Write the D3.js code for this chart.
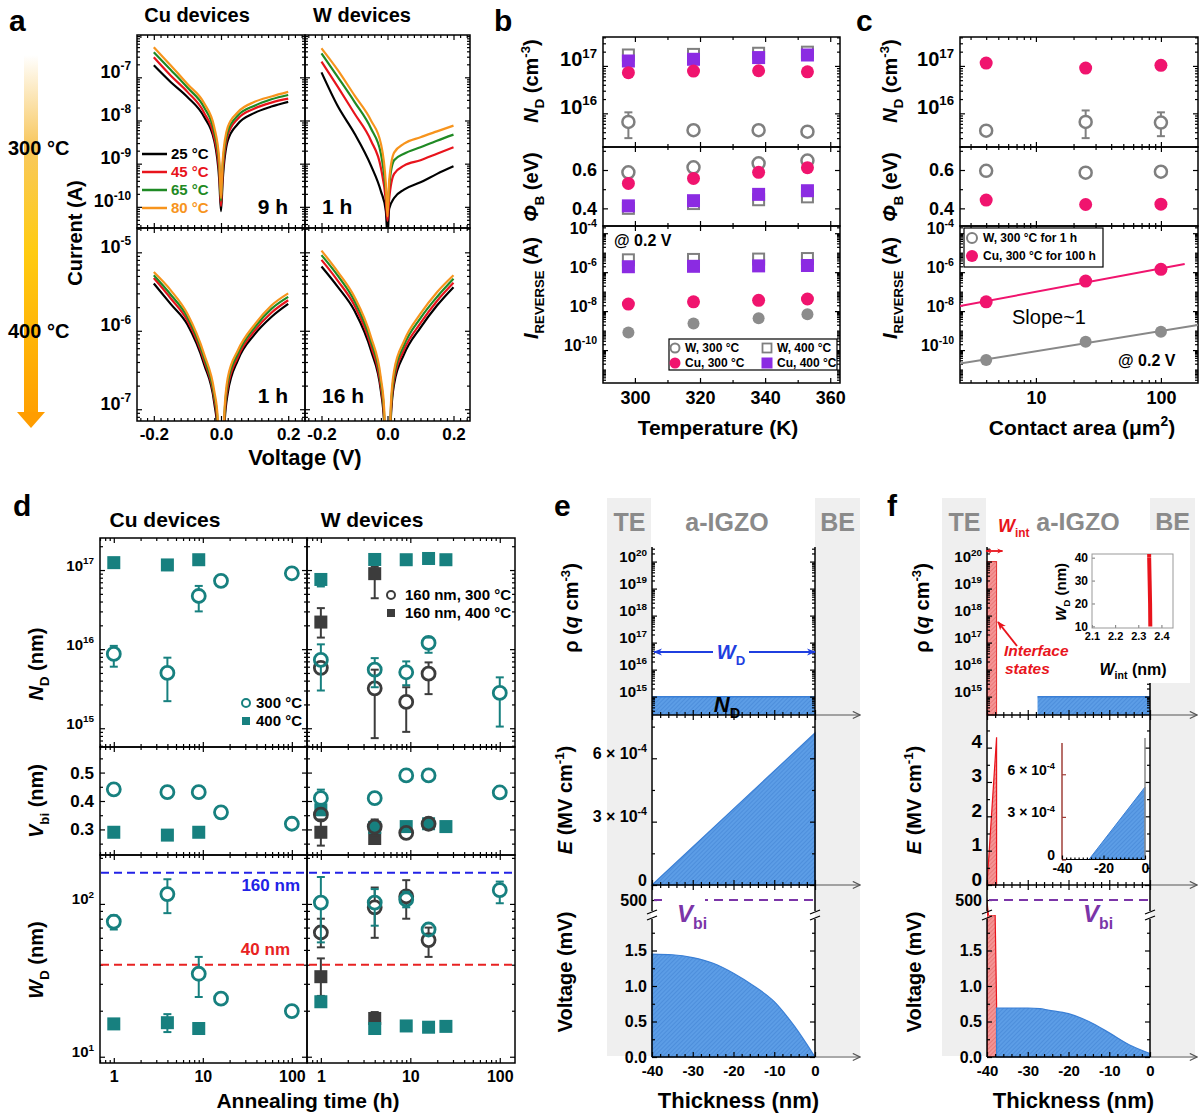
<!DOCTYPE html>
<html>
<head>
<meta charset="utf-8">
<script src="https://cdn.jsdelivr.net/npm/d3@7"></script>
<style>
  body { margin: 0; background: #fff; }
  svg { display: block; }
</style>
</head>
<body>
<script>
// ---------------- data: panel a (I–V, current in A) ----------------
const ivVolt  = [-0.2, -0.15, -0.1, -0.05, -0.02, -0.005, 0, 0.005, 0.02, 0.05, 0.1, 0.15, 0.2];
const ivVoltB = [-0.2, -0.15, -0.1, -0.05, -0.02, -0.01, 0, 0.01, 0.02, 0.05, 0.1, 0.15, 0.2];
const ivLegend = ['25 °C', '45 °C', '65 °C', '80 °C'];
const ivColors = ['#000000', '#e8141c', '#1f8a24', '#f7941d'];
const ivCu9h = [
  [1.9e-7, 7.8e-8, 3.5e-8, 1.2e-8, 3.4e-9, 4e-10, 8e-11, 4e-10, 3.4e-9, 8.3e-9, 1.5e-8, 2.1e-8, 2.7e-8],
  [2.9e-7, 1.1e-7, 4.6e-8, 1.5e-8, 4e-9, 5.8e-10, 1.05e-10, 5.8e-10, 4.5e-9, 1.1e-8, 1.9e-8, 2.6e-8, 3.2e-8],
  [3.8e-7, 1.5e-7, 5.8e-8, 2e-8, 5.4e-9, 9e-10, 1.4e-10, 9e-10, 5.6e-9, 1.3e-8, 2.2e-8, 3.1e-8, 3.9e-8],
  [5e-7, 1.9e-7, 7e-8, 2.5e-8, 7e-9, 1.2e-9, 1.6e-10, 1.2e-9, 7e-9, 1.55e-8, 2.7e-8, 3.6e-8, 4.6e-8]
];
const ivW1h = [
  [1.3e-7, 2.1e-8, 5e-9, 9e-10, 2.3e-10, 8e-11, 2e-11, 9e-11, 1.6e-10, 2.5e-10, 3.7e-10, 5.8e-10, 8.7e-10],
  [2.3e-7, 5.9e-8, 1.45e-8, 3.4e-9, 8e-10, 1.4e-10, 4.7e-11, 1.5e-10, 5.8e-10, 9e-10, 1.2e-9, 1.7e-9, 2.4e-9],
  [3.6e-7, 1e-7, 2.7e-8, 6.5e-9, 1.7e-9, 2.5e-10, 1e-10, 3e-10, 1.2e-9, 1.7e-9, 2.4e-9, 3.4e-9, 4.7e-9],
  [4.7e-7, 1.45e-7, 3.8e-8, 1e-8, 2.9e-9, 3.4e-10, 6e-11, 4e-10, 1.8e-9, 2.9e-9, 4.1e-9, 5.6e-9, 7.6e-9]
];
const ivCu1h = [
  [4e-6, 2.2e-6, 1.2e-6, 3.7e-7, 1.2e-7, 5e-8, 1e-9, 6e-8, 1.6e-7, 4.2e-7, 9e-7, 1.5e-6, 2.2e-6],
  [4.7e-6, 2.6e-6, 1.35e-6, 4.1e-7, 1.35e-7, 6e-8, 1e-9, 7e-8, 1.9e-7, 4.6e-7, 1e-6, 1.7e-6, 2.45e-6],
  [5.1e-6, 2.9e-6, 1.5e-6, 4.5e-7, 1.5e-7, 7e-8, 1e-9, 8e-8, 2.2e-7, 5.1e-7, 1.1e-6, 1.9e-6, 2.7e-6],
  [5.6e-6, 3.3e-6, 1.65e-6, 5e-7, 1.7e-7, 8e-8, 1e-9, 9e-8, 2.5e-7, 5.6e-7, 1.2e-6, 2.1e-6, 3e-6]
];
const ivW16h = [
  [6.6e-6, 3.6e-6, 1.8e-6, 5.6e-7, 1.7e-7, 6.5e-8, 1e-9, 7.5e-8, 2.1e-7, 5e-7, 1.1e-6, 2.1e-6, 3.6e-6],
  [8e-6, 4.3e-6, 2.1e-6, 6.4e-7, 1.9e-7, 7.5e-8, 1e-9, 8.5e-8, 2.4e-7, 5.7e-7, 1.25e-6, 2.4e-6, 4.1e-6],
  [9.2e-6, 5e-6, 2.4e-6, 7.3e-7, 2.2e-7, 8.5e-8, 1e-9, 9.5e-8, 2.7e-7, 6.5e-7, 1.45e-6, 2.7e-6, 4.6e-6],
  [1.05e-5, 5.6e-6, 2.7e-6, 8.3e-7, 2.5e-7, 1e-7, 1e-9, 1.1e-7, 3.1e-7, 7.4e-7, 1.65e-6, 3.1e-6, 5.1e-6]
];

// ---------------- data: panel b (vs temperature) ----------------
const tempK = [298, 318, 338, 353];
const ndW300 = [6.6e15, 4.4e15, 4.4e15, 4.1e15];
const ndW300Err = [[3e15, 1.05e16], null, null, null];
const ndW400 = [1.7e17, 1.75e17, 1.85e17, 1.95e17];
const ndCu300 = [7.2e16, 7.8e16, 7.9e16, 7.5e16];
const ndCu400 = [1.27e17, 1.38e17, 1.5e17, 1.7e17];
const phiW300 = [0.588, 0.614, 0.635, 0.649];
const phiW400 = [0.40, 0.425, 0.445, 0.46];
const phiCu300 = [0.53, 0.556, 0.588, 0.612];
const phiCu400 = [0.413, 0.44, 0.473, 0.492];
const irW300 = [8.1e-10, 2.3e-9, 4.3e-9, 7e-9];
const irW400 = [4.3e-6, 4.5e-6, 4.7e-6, 5e-6];
const irCu300 = [2.3e-8, 3e-8, 3.6e-8, 4.2e-8];
const irCu400 = [1.9e-6, 2e-6, 2.1e-6, 2.2e-6];

// ---------------- data: panel c (vs contact area) ----------------
const areaUm2 = [4, 25, 100];
const ndAreaW = [4.3e15, 6.6e15, 6.4e15];
const ndAreaWErr = [null, [3e15, 1.15e16], [3.3e15, 1.05e16]];
const ndAreaCu = [1.15e17, 9e16, 1.03e17];
const phiAreaW = [0.596, 0.586, 0.591];
const phiAreaCu = [0.443, 0.42, 0.422];
const irAreaW = [3.1e-11, 2.7e-10, 8.7e-10];
const irAreaCu = [3e-8, 3.5e-7, 1.4e-6];

// ---------------- data: panel d (vs annealing time) ----------------
const tCu300 = [1, 4, 9, 16, 100];
const tCu400 = [1, 4, 9];
const cuNd300 = [8.7e15, 5e15, 4.7e16, 7.3e16, 9.1e16];
const cuNd300Err = [[6e15, 1.1e16], [2.2e15, 7.8e15], [3e16, 6.3e16], null, null];
const cuNd400 = [1.24e17, 1.16e17, 1.35e17];
const cuNd400Err = [null, [1e17, 1.3e17], null];
const cuVbi300 = [0.441, 0.431, 0.431, 0.36, 0.32];
const cuVbi400 = [0.29, 0.28, 0.29];
const cuWd300 = [76.6, 116, 34.9, 24, 19.9];
const cuWd300Err = [[68, 84], [87, 145], [24.6, 45], null, null];
const cuWd400 = [16.4, 16.7, 15.3];
const cuWd400Err = [null, [14.5, 19], null];

const tW300 = [1, 4, 9, 16, 100];
const tW400 = [1, 4, 9, 16, 25];
const tW160a = [1, 4, 9, 16];
const tW160b = [1, 4];
const wNd300 = [7.3e15, 5.5e15, 5.1e15, 1.2e16, 2.8e15];
const wNd300Err = [[3e15, 1.15e16], [3.3e15, 7.7e15], [3.5e15, 7e15], [9e15, 1.4e16], [1.05e15, 4.4e15]];
const wNd400 = [7.6e16, 1.36e17, 1.35e17, 1.4e17, 1.35e17];
const wNd400Err = [[6.2e16, 8.8e16], null, null, null, null];
const w160Nd300 = [5.8e15, 3.2e15, 2.15e15, 4.9e15];
const w160Nd300Err = [null, [7.5e14, 5.5e15], [9e14, 3.3e15], [2.7e15, 6.8e15]];
const w160Nd400 = [2.2e16, 9e16];
const w160Nd400Err = [[1.4e16, 3.3e16], [4.4e16, 1.1e17]];
const wVbi300 = [0.41, 0.41, 0.49, 0.49, 0.43];
const wVbi300Err = [[0.39, 0.44], null, null, null, null];
const wVbi400 = [0.369, 0.307, 0.31, 0.32, 0.31];
const w160Vbi300 = [0.352, 0.31, 0.288, 0.32];
const w160Vbi300Err = [null, [0.28, 0.335], null, null];
const w160Vbi400 = [0.29, 0.268];
const w160Vbi400Err = [[0.243, 0.335], null];
const wWd300 = [102, 102, 107, 68, 123];
const wWd300Err = [[56, 150], [72, 125], [95, 120], null, [101, 140]];
const wWd400 = [22.9, 15.3, 15.9, 15.6, 15.8];
const w160Wd300 = [65, 95, 112, 58];
const w160Wd300Err = [[52, 80], [60, 128], [80, 143], [45, 70]];
const w160Wd400 = [33.4, 17.8];
const w160Wd400Err = [[25, 44], [16, 19.6]];
const wdRefLines = [160, 40];

// ---------------- data: panels e, f (band profiles) ----------------
const ndLevel = 1e15;
const eFieldX = [-40, 0];
const eFieldE = [0, 7.2e-4];
const eVoltX = [-40, -35, -30, -25, -20, -15, -10, -5, 0];
const eVoltV = [1.45, 1.44, 1.40, 1.32, 1.18, 1.0, 0.78, 0.43, 0.0];
const vbiMv = 500;
const wInt = 2.35;
const rhoInt = 1e20;
const fNdStart = -27.6;
const fFieldIntX = [-40, -37.65, -37.65];
const fFieldIntE = [0, 4.3, 0];
const fInsetFieldX = [-27, 0];
const fInsetFieldE = [0, 5.1e-4];
const fVoltIntX = [-40, -38.0, -37.65, -37.65];
const fVoltIntV = [2.0, 2.0, 0.75, 0];
const fVoltIntHiX = [-40, -39.5];
const fVoltIntHiV = [505, 480];
const fVoltX = [-37.65, -35, -30, -27, -25, -20, -15, -10, -5, 0];
const fVoltV = [0.69, 0.69, 0.69, 0.68, 0.66, 0.61, 0.50, 0.34, 0.17, 0.05];
const insetWd = [10, 20, 30, 40];
const insetWint = [2.352, 2.351, 2.349, 2.347];

// ---------------- colours ----------------
const PINK = '#f0146e', PURPLE = '#8b2be2', GRAY = '#7f7f7f', TEAL = '#17807f', DARK = '#3c3c3c';

// ---------------- helpers ----------------
const svg = d3.select('body').append('svg')
  .attr('width', 1203).attr('height', 1119)
  .attr('font-family', '"Liberation Sans", Arial, Helvetica, sans-serif')
  .attr('font-weight', 'bold');
const defs = svg.append('defs');
let clipN = 0;
function clipRect(x0, y0, x1, y1) {
  const id = 'clip' + (clipN++);
  defs.append('clipPath').attr('id', id).append('rect')
    .attr('x', x0).attr('y', y0).attr('width', x1 - x0).attr('height', y1 - y0);
  return `url(#${id})`;
}
function rich(t, parts, fs) {
  let shift = 0;
  parts.forEach(p => {
    if (typeof p === 'string') p = {t: p};
    const target = p.sub ? fs * 0.28 : p.sup ? -fs * 0.42 : 0;
    const ts = t.append('tspan').text(p.t).attr('dy', target - shift);
    shift = target;
    if (p.sub || p.sup) ts.attr('font-size', fs * 0.66);
    if (p.i) ts.attr('font-style', 'italic');
    if (p.w) ts.attr('font-weight', p.w);
    if (p.fill) ts.attr('fill', p.fill);
  });
}
function label(g, x, y, parts, o = {}) {
  const fs = o.fs || 16;
  const t = g.append('text').attr('x', x).attr('y', y).attr('font-size', fs)
    .attr('text-anchor', o.anchor || 'start').attr('fill', o.fill || '#000');
  if (o.rot) t.attr('transform', `rotate(${o.rot},${x},${y})`);
  if (o.w) t.attr('font-weight', o.w);
  if (o.i) t.attr('font-style', 'italic');
  rich(t, typeof parts === 'string' ? [parts] : parts, fs);
  return t;
}
const supParts = d => ['10', {t: String(Math.round(Math.log10(d))), sup: true}];

function ticks(g, side, scale, pos, vals, o = {}) {
  const gen = {left: d3.axisLeft, right: d3.axisRight, top: d3.axisTop, bottom: d3.axisBottom}[side];
  const parts = o.sup ? supParts : o.parts;
  const fmt = o.fmt || (parts ? (() => 'x') : (() => ''));
  const ax = gen(scale).tickValues(vals).tickSizeInner(-(o.len || 5)).tickSizeOuter(0)
    .tickPadding(o.pad || 5).tickFormat(fmt);
  const vert = side === 'left' || side === 'right';
  const a = g.append('g').attr('transform', vert ? `translate(${pos},0)` : `translate(0,${pos})`).call(ax)
    .attr('font-family', null).attr('font-size', null).attr('fill', null);
  a.select('.domain').remove();
  a.selectAll('.tick line').attr('stroke', o.color || '#000').attr('stroke-width', o.sw || 1.2);
  a.selectAll('.tick text').attr('font-size', o.fs || 16).attr('fill', '#000');
  if (parts) a.selectAll('.tick text').each(function (d) {
    rich(d3.select(this).text(null), parts(d), o.fs || 16);
  });
  return a;
}
function frame(g, x0, y0, x1, y1, sw = 1.5, color = '#000') {
  g.append('rect').attr('x', x0).attr('y', y0).attr('width', x1 - x0).attr('height', y1 - y0)
    .attr('fill', 'none').attr('stroke', color).attr('stroke-width', sw);
}
function boxAxes(g, xs, ys, b, o) {
  const [x0, y0, x1, y1] = b;
  ticks(g, 'bottom', xs, y1, o.xMaj, Object.assign({len: 5}, o.xLab || {}));
  ticks(g, 'bottom', xs, y1, o.xMin, {len: 3});
  ticks(g, 'top', xs, y0, o.xMaj, {len: 5});
  ticks(g, 'top', xs, y0, o.xMin, {len: 3});
  ticks(g, 'left', ys, x0, o.yMaj, Object.assign({len: 5}, o.yLab || {}));
  ticks(g, 'left', ys, x0, o.yMin, {len: 3});
  ticks(g, 'right', ys, x1, o.yMaj, {len: 5});
  ticks(g, 'right', ys, x1, o.yMin, {len: 3});
  frame(g, x0, y0, x1, y1);
}
function logMajors(dom, step = 1) {
  const out = [];
  for (let e = Math.ceil(Math.log10(dom[0]) - 1e-9); e <= Math.floor(Math.log10(dom[1]) + 1e-9); e++)
    if (((e % step) + step) % step === 0) out.push(Math.pow(10, e));
  return out;
}
function logMinors(dom) {
  const out = [];
  for (let e = Math.floor(Math.log10(dom[0])); e <= Math.floor(Math.log10(dom[1])); e++)
    for (let k = 2; k <= 9; k++) {
      const v = k * Math.pow(10, e);
      if (v > dom[0] && v < dom[1]) out.push(v);
    }
  return out;
}
function linTicks(lo, hi, step, skip) {
  const out = [];
  for (let i = Math.ceil(lo / step - 1e-9); i * step <= hi + 1e-9; i++) {
    const v = +(i * step).toFixed(10);
    if (!skip || Math.abs(v / skip - Math.round(v / skip)) > 1e-6) out.push(v);
  }
  return out;
}
function mark(g, type, x, y, color, s, sw = 2.5) {
  if (type === 'o') g.append('circle').attr('cx', x).attr('cy', y).attr('r', s)
    .attr('fill', 'none').attr('stroke', color).attr('stroke-width', sw);
  else if (type === 'O') g.append('circle').attr('cx', x).attr('cy', y).attr('r', s).attr('fill', color);
  else if (type === 's') g.append('rect').attr('x', x - s).attr('y', y - s).attr('width', 2 * s).attr('height', 2 * s)
    .attr('fill', 'none').attr('stroke', color).attr('stroke-width', sw);
  else g.append('rect').attr('x', x - s).attr('y', y - s).attr('width', 2 * s).attr('height', 2 * s).attr('fill', color);
}
function seg(g, x1, y1, x2, y2, color, sw) {
  g.append('line').attr('x1', x1).attr('y1', y1).attr('x2', x2).attr('y2', y2)
    .attr('stroke', color).attr('stroke-width', sw);
}
function series(g, xs, ys, xv, yv, type, color, s, err, sw = 2.5) {
  xv.forEach((xx, i) => {
    const cx = xs(xx), cy = ys(yv[i]);
    if (err && err[i]) {
      const lo = ys(err[i][0]), hi = ys(err[i][1]);
      const r = type === 'o' ? s : 0;
      if (hi < cy - r) seg(g, cx, cy - r, cx, hi, color, 2);
      if (lo > cy + r) seg(g, cx, cy + r, cx, lo, color, 2);
      seg(g, cx - 4, hi, cx + 4, hi, color, 2);
      seg(g, cx - 4, lo, cx + 4, lo, color, 2);
    }
    mark(g, type, cx, cy, color, s, sw);
  });
}
function hatch(id, bg, line) {
  const p = defs.append('pattern').attr('id', id).attr('patternUnits', 'userSpaceOnUse')
    .attr('width', 3).attr('height', 3).attr('patternTransform', 'rotate(45)');
  p.append('rect').attr('width', 3).attr('height', 3).attr('fill', bg);
  p.append('line').attr('x1', 0).attr('y1', 0).attr('x2', 0).attr('y2', 3).attr('stroke', line).attr('stroke-width', 1);
}
hatch('hBlue', '#5c9de6', '#3d7fd0');
hatch('hRed', '#f49595', '#e25b5b');
function arrowDef(id, color, filled, size = 9) {
  const m = defs.append('marker').attr('id', id).attr('viewBox', '0 0 10 10').attr('refX', 9).attr('refY', 5)
    .attr('markerUnits', 'userSpaceOnUse').attr('markerWidth', size).attr('markerHeight', size)
    .attr('orient', 'auto-start-reverse');
  if (filled) m.append('path').attr('d', 'M0,1 L10,5 L0,9 L3,5 Z').attr('fill', color);
  else m.append('path').attr('d', 'M1,1 L9,5 L1,9').attr('fill', 'none').attr('stroke', color).attr('stroke-width', 1.3);
}
arrowDef('arrGray', '#555', false);
arrowDef('arrBlue', '#1f3fe0', true);
arrowDef('arrRed', '#e8141c', true);
arrowDef('arrRedS', '#e8141c', true, 6);

// panel letters
[['a', 9, 31], ['b', 494, 31], ['c', 856, 31], ['d', 13, 516], ['e', 554, 516], ['f', 887, 516]]
  .forEach(([s, x, y]) => label(svg, x, y, s, {fs: 30}));

// ================= panel a =================
const gA = svg.append('g');
const grad = defs.append('linearGradient').attr('id', 'tempGrad').attr('x1', 0).attr('y1', 0).attr('x2', 0).attr('y2', 1);
[[0, '#ffffff'], [0.25, '#f8c860'], [0.55, '#ffcb10'], [1, '#ffa000']]
  .forEach(([o, c]) => grad.append('stop').attr('offset', o).attr('stop-color', c));
gA.append('rect').attr('x', 24).attr('y', 55).attr('width', 14).attr('height', 358).attr('fill', 'url(#tempGrad)');
gA.append('path').attr('d', 'M17,412 L45,412 L31,428 Z').attr('fill', '#ff9d00');
label(gA, 8, 155, '300 °C', {fs: 20});
label(gA, 8, 338, '400 °C', {fs: 20});
label(gA, 197, 22, 'Cu devices', {fs: 20, anchor: 'middle'});
label(gA, 362, 22, 'W devices', {fs: 20, anchor: 'middle'});

const aCols = [[137, 305], [305, 470]];
const aRows = [[35, 228], [228, 421]];
const aYdom = [[Math.pow(10, -10.49), Math.pow(10, -6.02)], [Math.pow(10, -7.15), Math.pow(10, -4.69)]];
const aSets = [
  {c: 0, r: 0, volt: ivVolt, curves: ivCu9h, tag: '9 h'},
  {c: 1, r: 0, volt: ivVolt, curves: ivW1h, tag: '1 h'},
  {c: 0, r: 1, volt: ivVoltB, curves: ivCu1h, tag: '1 h'},
  {c: 1, r: 1, volt: ivVoltB, curves: ivW16h, tag: '16 h'}
];
aSets.forEach(s => {
  const [x0, x1] = aCols[s.c], [y0, y1] = aRows[s.r];
  const xs = d3.scaleLinear().domain([-0.25, 0.25]).range([x0, x1]);
  const ys = d3.scaleLog().domain(aYdom[s.r]).range([y1, y0]);
  const cg = gA.append('g').attr('clip-path', clipRect(x0, y0, x1, y1));
  const line = d3.line().x((d, i) => xs(s.volt[i])).y(d => ys(d)).curve(d3.curveMonotoneX);
  s.curves.forEach((c, k) => cg.append('path').attr('d', line(c)).attr('fill', 'none')
    .attr('stroke', ivColors[k]).attr('stroke-width', 2.2));
  boxAxes(gA, xs, ys, [x0, y0, x1, y1], {
    xMaj: [-0.2, 0, 0.2], xMin: linTicks(-0.24, 0.24, 0.02, 0.2),
    yMaj: logMajors(aYdom[s.r]), yMin: logMinors(aYdom[s.r]),
    xLab: s.r === 1 ? {fmt: d => d.toFixed(1), fs: 17, pad: 7} : null,
    yLab: s.c === 0 ? {sup: true, fs: 18, pad: 6} : null
  });
  if (s.c === 0) label(gA, 288, s.r === 0 ? 214 : 403, s.tag, {fs: 21, anchor: 'end'});
  else label(gA, 322, s.r === 0 ? 214 : 403, s.tag, {fs: 21});
});
ivLegend.forEach((t, k) => {
  const y = 154 + k * 18;
  seg(gA, 142, y, 167, y, ivColors[k], 2.5);
  label(gA, 171, y + 5, t, {fs: 15, fill: ivColors[k]});
});
label(gA, 82, 233, 'Current (A)', {fs: 20, rot: -90, anchor: 'middle'});
label(gA, 305, 465, 'Voltage (V)', {fs: 22, anchor: 'middle'});

// ================= panels b, c =================
const bcRows = [[37, 147], [147, 226], [226, 383]];
const ndDom = [Math.pow(10, 15.29), Math.pow(10, 17.61)];
const phiDom = [0.308, 0.72];
const irDom = [Math.pow(10, -11.69), Math.pow(10, -3.63)];
const ysND = d3.scaleLog().domain(ndDom).range([147, 37]);
const ysPhi = d3.scaleLinear().domain(phiDom).range([226, 147]);
const ysIR = d3.scaleLog().domain(irDom).range([383, 226]);
const irMaj = logMajors(irDom, 2);
const irMin = logMinors(irDom).concat(logMajors(irDom).filter(v => !irMaj.includes(v)));

function bcPanel(g, xs, x0, x1, xMaj, xMin, xFmt) {
  const yDefs = [
    {ys: ysND, maj: logMajors(ndDom), min: logMinors(ndDom), lab: {sup: true, fs: 20, pad: 6}},
    {ys: ysPhi, maj: [0.4, 0.6], min: [0.5, 0.7], lab: {fmt: d => d.toFixed(1), fs: 18, pad: 6}},
    {ys: ysIR, maj: irMaj, min: irMin, lab: {sup: true, fs: 16, pad: 6}}
  ];
  yDefs.forEach((d, r) => boxAxes(g, xs, d.ys, [x0, bcRows[r][0], x1, bcRows[r][1]], {
    xMaj, xMin, yMaj: d.maj, yMin: d.min, yLab: d.lab,
    xLab: r === 2 ? {fmt: xFmt, fs: 18, pad: 8} : null
  }));
}
function bcYLabels(g, x) {
  label(g, x, 81, [{t: 'N', i: true}, {t: 'D', sub: true}, ' (cm', {t: '-3', sup: true}, ')'], {fs: 20, rot: -90, anchor: 'middle'});
  label(g, x, 187, [{t: 'Φ', i: true}, {t: 'B', sub: true}, ' (eV)'], {fs: 20, rot: -90, anchor: 'middle'});
  label(g, x, 288, [{t: 'I', i: true}, {t: 'REVERSE', sub: true}, ' (A)'], {fs: 20, rot: -90, anchor: 'middle'});
}

// ---- b
const gB = svg.append('g');
const bXs = d3.scaleLinear().domain([290.2, 363]).range([603, 840]);
bcPanel(gB, bXs, 603, 840, [300, 320, 340, 360], [310, 330, 350], d => String(d));
bcYLabels(gB, 538);
series(gB, bXs, ysND, tempK, ndW400, 's', GRAY, 5.5, null, 2);
series(gB, bXs, ysND, tempK, ndCu400, 'S', PURPLE, 6.5);
series(gB, bXs, ysND, tempK, ndCu300, 'O', PINK, 6.5);
series(gB, bXs, ysND, tempK, ndW300, 'o', GRAY, 6, ndW300Err);
series(gB, bXs, ysPhi, tempK, phiW300, 'o', GRAY, 6);
series(gB, bXs, ysPhi, tempK, phiW400, 's', GRAY, 5.5, null, 2);
series(gB, bXs, ysPhi, tempK, phiCu300, 'O', PINK, 6.5);
series(gB, bXs, ysPhi, tempK, phiCu400, 'S', PURPLE, 6.5);
series(gB, bXs, ysIR, tempK, irW400, 's', GRAY, 5.5, null, 2);
series(gB, bXs, ysIR, tempK, irCu400, 'S', PURPLE, 6.5);
series(gB, bXs, ysIR, tempK, irCu300, 'O', PINK, 6.5);
series(gB, bXs, ysIR, tempK, irW300, 'O', '#8c8c8c', 6);
label(gB, 614, 246, '@ 0.2 V', {fs: 16});
gB.append('rect').attr('x', 669).attr('y', 339).attr('width', 168).attr('height', 31)
  .attr('fill', '#fff').attr('stroke', '#000').attr('stroke-width', 1.2);
mark(gB, 'o', 675, 348, GRAY, 4.5, 2);
label(gB, 685, 352, 'W, 300 °C', {fs: 12});
mark(gB, 's', 767, 348, GRAY, 4.5, 1.8);
label(gB, 777, 352, 'W, 400 °C', {fs: 12});
mark(gB, 'O', 675, 363, PINK, 5.5);
label(gB, 685, 367, 'Cu, 300 °C', {fs: 12});
mark(gB, 'S', 767, 363, PURPLE, 5.5);
label(gB, 777, 367, 'Cu, 400 °C', {fs: 12});
label(gB, 718, 435, 'Temperature (K)', {fs: 21, anchor: 'middle'});

// ---- c
const gC = svg.append('g');
const cXs = d3.scaleLog().domain([2.47, 198]).range([960, 1198]);
bcPanel(gC, cXs, 960, 1198, [10, 100], logMinors([2.47, 198]), d => String(d));
bcYLabels(gC, 897);
series(gC, cXs, ysND, areaUm2, ndAreaCu, 'O', PINK, 6.5);
series(gC, cXs, ysND, areaUm2, ndAreaW, 'o', GRAY, 6, ndAreaWErr);
series(gC, cXs, ysPhi, areaUm2, phiAreaW, 'o', GRAY, 6);
series(gC, cXs, ysPhi, areaUm2, phiAreaCu, 'O', PINK, 6.5);
// log-log least-squares fits
function fitLine(xv, yv, xFrom, xTo) {
  const lx = xv.map(Math.log10), ly = yv.map(Math.log10);
  const mx = d3.mean(lx), my = d3.mean(ly);
  const k = d3.sum(lx, (v, i) => (v - mx) * (ly[i] - my)) / d3.sum(lx, v => (v - mx) ** 2);
  const f = x => Math.pow(10, my + k * (Math.log10(x) - mx));
  return [[xFrom, f(xFrom)], [xTo, f(xTo)]];
}
const cClip = gC.append('g').attr('clip-path', clipRect(960, 226, 1198, 383));
const fitPath = d3.line().x(d => cXs(d[0])).y(d => ysIR(d[1]));
cClip.append('path').attr('d', fitPath(fitLine(areaUm2, irAreaCu, 2.47, 155)))
  .attr('stroke', PINK).attr('stroke-width', 2).attr('fill', 'none');
cClip.append('path').attr('d', fitPath(fitLine(areaUm2, irAreaW, 2.47, 198)))
  .attr('stroke', '#888').attr('stroke-width', 2).attr('fill', 'none');
series(gC, cXs, ysIR, areaUm2, irAreaCu, 'O', PINK, 6.5);
series(gC, cXs, ysIR, areaUm2, irAreaW, 'O', '#8c8c8c', 6);
gC.append('rect').attr('x', 964).attr('y', 228).attr('width', 139).attr('height', 39)
  .attr('fill', '#fff').attr('stroke', '#000').attr('stroke-width', 1.2);
mark(gC, 'o', 972, 238, GRAY, 5, 2);
label(gC, 983, 242, 'W, 300 °C for 1 h', {fs: 12});
mark(gC, 'O', 972, 256, PINK, 6);
label(gC, 983, 260, 'Cu, 300 °C for 100 h', {fs: 12});
label(gC, 1012, 324, 'Slope~1', {fs: 20, w: 'normal'});
label(gC, 1118, 366, '@ 0.2 V', {fs: 16});
label(gC, 1082, 435, ['Contact area (μm', {t: '2', sup: true}, ')'], {fs: 21, anchor: 'middle'});

// ================= panel d =================
const gD = svg.append('g');
const dXdom = [0.7, 148];
const dCols = [[100, 307], [307, 515]];
const dRows = [[538, 747], [747, 855], [855, 1063]];
const dYdoms = [[Math.pow(10, 14.763), Math.pow(10, 17.405)], [0.21, 0.59], [Math.pow(10, 0.959), Math.pow(10, 2.32)]];
const dS = [[], []];
dCols.forEach((col, c) => dRows.forEach((row, r) => {
  const xs = d3.scaleLog().domain(dXdom).range(col);
  const ys = (r === 1 ? d3.scaleLinear() : d3.scaleLog()).domain(dYdoms[r]).range([row[1], row[0]]);
  dS[c][r] = {xs, ys};
  const yLab = c !== 0 ? null : r === 1 ? {fmt: d => d.toFixed(1), fs: 17, pad: 6} : {sup: true, fs: 15, pad: 6};
  boxAxes(gD, xs, ys, [col[0], row[0], col[1], row[1]], {
    xMaj: [1, 10, 100], xMin: logMinors(dXdom),
    yMaj: r === 1 ? [0.3, 0.4, 0.5] : logMajors(dYdoms[r]),
    yMin: r === 1 ? linTicks(0.21, 0.59, 0.05, 0.1) : logMinors(dYdoms[r]),
    yLab, xLab: r === 2 ? {fmt: d => String(d), fs: 16, pad: 8} : null
  });
}));
// reference lines in W_D
wdRefLines.forEach((v, k) => {
  const y = dS[0][2].ys(v);
  gD.append('line').attr('x1', 101).attr('x2', 514).attr('y1', y).attr('y2', y)
    .attr('stroke', k === 0 ? '#2222e6' : '#e82222').attr('stroke-width', 2).attr('stroke-dasharray', '8,5');
});
label(gD, 300, 891, '160 nm', {fs: 17, anchor: 'end', fill: '#2222e6'});
label(gD, 290, 955, '40 nm', {fs: 17, anchor: 'end', fill: '#e82222'});
// Cu devices
const dc = dS[0], dw = dS[1];
series(gD, dc[0].xs, dc[0].ys, tCu400, cuNd400, 'S', TEAL, 6.5, cuNd400Err);
series(gD, dc[0].xs, dc[0].ys, tCu300, cuNd300, 'o', TEAL, 6.5, cuNd300Err, 2.8);
series(gD, dc[1].xs, dc[1].ys, tCu400, cuVbi400, 'S', TEAL, 6.5);
series(gD, dc[1].xs, dc[1].ys, tCu300, cuVbi300, 'o', TEAL, 6.5, null, 2.8);
series(gD, dc[2].xs, dc[2].ys, tCu400, cuWd400, 'S', TEAL, 6.5, cuWd400Err);
series(gD, dc[2].xs, dc[2].ys, tCu300, cuWd300, 'o', TEAL, 6.5, cuWd300Err, 2.8);
// W devices
series(gD, dw[0].xs, dw[0].ys, tW160b, w160Nd400, 'S', DARK, 6.5, w160Nd400Err);
series(gD, dw[0].xs, dw[0].ys, tW400, wNd400, 'S', TEAL, 6.5, wNd400Err);
series(gD, dw[0].xs, dw[0].ys, tW160a, w160Nd300, 'o', DARK, 6.5, w160Nd300Err, 2.8);
series(gD, dw[0].xs, dw[0].ys, tW300, wNd300, 'o', TEAL, 6.5, wNd300Err, 2.8);
series(gD, dw[1].xs, dw[1].ys, tW160b, w160Vbi400, 'S', DARK, 6.5, w160Vbi400Err);
series(gD, dw[1].xs, dw[1].ys, tW400, wVbi400, 'S', TEAL, 6.5);
series(gD, dw[1].xs, dw[1].ys, tW160a, w160Vbi300, 'o', DARK, 6.5, w160Vbi300Err, 2.8);
series(gD, dw[1].xs, dw[1].ys, tW300, wVbi300, 'o', TEAL, 6.5, wVbi300Err, 2.8);
series(gD, dw[2].xs, dw[2].ys, tW160b, w160Wd400, 'S', DARK, 6.5, w160Wd400Err);
series(gD, dw[2].xs, dw[2].ys, tW400, wWd400, 'S', TEAL, 6.5);
series(gD, dw[2].xs, dw[2].ys, tW160a, w160Wd300, 'o', DARK, 6.5, w160Wd300Err, 2.8);
series(gD, dw[2].xs, dw[2].ys, tW300, wWd300, 'o', TEAL, 6.5, wWd300Err, 2.8);
// legends
mark(gD, 'o', 246, 703, TEAL, 4, 2);
label(gD, 256, 708, '300 °C', {fs: 15});
mark(gD, 'S', 246, 721, TEAL, 4);
label(gD, 256, 726, '400 °C', {fs: 15});
mark(gD, 'o', 391, 595, DARK, 4, 2);
label(gD, 405, 600, '160 nm, 300 °C', {fs: 15});
mark(gD, 'S', 391, 613, DARK, 4);
label(gD, 405, 618, '160 nm, 400 °C', {fs: 15});
label(gD, 165, 527, 'Cu devices', {fs: 21, anchor: 'middle'});
label(gD, 372, 527, 'W devices', {fs: 21, anchor: 'middle'});
label(gD, 43, 664, [{t: 'N', i: true}, {t: 'D', sub: true}, ' (nm)'], {fs: 20, rot: -90, anchor: 'middle'});
label(gD, 43, 801, [{t: 'V', i: true}, {t: 'bi', sub: true}, ' (nm)'], {fs: 20, rot: -90, anchor: 'middle'});
label(gD, 43, 960, [{t: 'W', i: true}, {t: 'D', sub: true}, ' (nm)'], {fs: 20, rot: -90, anchor: 'middle'});
label(gD, 308, 1108, 'Annealing time (h)', {fs: 21, anchor: 'middle'});

// ================= panels e, f =================
const rhoDom = [Math.pow(10, 14.32), Math.pow(10, 20.54)];
const Y = {rhoTop: 547, rhoBot: 715, eBot: 885, brk: 915, vBot: 1057};
function profile(g, x0, x1, band, eDom, midX) {
  const xs = d3.scaleLinear().domain([-40, 0]).range([x0, x1]);
  const ysRho = d3.scaleLog().domain(rhoDom).range([Y.rhoBot, Y.rhoTop]);
  const ysE = d3.scaleLinear().domain(eDom).range([Y.eBot, Y.rhoBot]);
  const ysV = d3.scaleLinear().domain([0, 2.0]).range([Y.vBot, Y.brk]);
  const ysVhi = d3.scaleLinear().domain([480, 520]).range([Y.brk, Y.eBot]);
  // device bands
  g.append('rect').attr('x', band[0]).attr('y', 498).attr('width', x0 - band[0] - 1).attr('height', 558).attr('fill', '#efefef');
  g.append('rect').attr('x', x1).attr('y', 498).attr('width', band[1] - x1).attr('height', 558).attr('fill', '#efefef');
  label(g, (band[0] + x0) / 2, 531, 'TE', {fs: 25, anchor: 'middle', fill: '#8a8a8a'});
  label(g, midX, 531, 'a-IGZO', {fs: 25, anchor: 'middle', fill: '#8a8a8a'});
  label(g, (x1 + band[1]) / 2, 531, 'BE', {fs: 25, anchor: 'middle', fill: '#8a8a8a'});
  return {xs, ysRho, ysE, ysV, ysVhi};
}
function profileAxes(g, s, x0, x1, arrowX, eMaj, eMin, eParts, eFs, lab) {
  const {xs, ysRho, ysE, ysV, ysVhi} = s;
  // vertical axes with a break in the voltage axis
  [x0, x1].forEach(x => {
    seg(g, x, Y.rhoTop, x, Y.brk - 4, '#000', 1.5);
    seg(g, x, Y.brk + 4, x, Y.vBot, '#000', 1.5);
    seg(g, x - 5, Y.brk - 1, x + 5, Y.brk - 5, '#000', 1.3);
    seg(g, x - 5, Y.brk + 5, x + 5, Y.brk + 1, '#000', 1.3);
  });
  ticks(g, 'left', ysRho, x0, logMajors(rhoDom), {len: 5, sup: true, fs: 15, pad: 5});
  ticks(g, 'left', ysRho, x0, logMinors(rhoDom), {len: 3});
  ticks(g, 'right', ysRho, x1, logMajors(rhoDom), {len: 5});
  ticks(g, 'right', ysRho, x1, logMinors(rhoDom), {len: 3});
  ticks(g, 'left', ysE, x0, eMaj, {len: 5, parts: eParts, fs: eFs, pad: 5});
  ticks(g, 'left', ysE, x0, eMin, {len: 3});
  ticks(g, 'right', ysE, x1, eMaj, {len: 5});
  ticks(g, 'right', ysE, x1, eMin, {len: 3});
  ticks(g, 'left', ysV, x0, [0, 0.5, 1, 1.5], {len: 5, fmt: d => d.toFixed(1), fs: 16, pad: 5});
  ticks(g, 'left', ysV, x0, [0.25, 0.75, 1.25, 1.75], {len: 3});
  ticks(g, 'right', ysV, x1, [0, 0.5, 1, 1.5], {len: 5});
  ticks(g, 'right', ysV, x1, [0.25, 0.75, 1.25, 1.75], {len: 3});
  ticks(g, 'left', ysVhi, x0, [500], {len: 5, fmt: d => String(d), fs: 16, pad: 5});
  [Y.rhoBot, Y.eBot, Y.vBot].forEach((y, k) => {
    g.append('line').attr('x1', x1).attr('x2', arrowX).attr('y1', y).attr('y2', y)
      .attr('stroke', '#555').attr('stroke-width', 1.2).attr('marker-end', 'url(#arrGray)');
    seg(g, x0, y, x1, y, '#000', 1.5);
    const last = k === 2;
    ticks(g, 'bottom', xs, y, [-40, -30, -20, -10, 0], {len: 5, fmt: last ? (d => String(d)) : null, fs: 15, pad: 8});
    ticks(g, 'bottom', xs, y, linTicks(-40, 0, 2, 10), {len: 3});
    if (!last) {
      ticks(g, 'top', xs, y, [-40, -30, -20, -10, 0], {len: 5});
      ticks(g, 'top', xs, y, linTicks(-40, 0, 2, 10), {len: 3});
    }
  });
  const vy = ysVhi(vbiMv);
  g.append('line').attr('x1', x0 + 2).attr('x2', x1).attr('y1', vy).attr('y2', vy)
    .attr('stroke', '#7b35a8').attr('stroke-width', 2).attr('stroke-dasharray', '9,6');
  label(g, lab.rho, 608, [{t: 'ρ'}, ' (', {t: 'q', i: true}, ' cm', {t: '-3', sup: true}, ')'], {fs: 20, rot: -90, anchor: 'middle'});
  label(g, lab.e, 800, [{t: 'E', i: true}, ' (MV cm', {t: '-1', sup: true}, ')'], {fs: 20, rot: -90, anchor: 'middle'});
  label(g, lab.e, 972, 'Voltage (mV)', {fs: 20, rot: -90, anchor: 'middle'});
  label(g, (x0 + x1) / 2 + 5, 1108, 'Thickness (nm)', {fs: 22, anchor: 'middle'});
}
const eParts4 = d => d === 0 ? ['0'] : [`${Math.round(d * 1e4)} × 10`, {t: '-4', sup: true}];
const areaOf = (s, ys, base) => d3.area().x(d => s.xs(d[0])).y0(base).y1(d => ys(d[1]));

// ---- e
const gE = svg.append('g');
const sE = profile(gE, 652, 815, [607, 860], [0, 8.05e-4], 727);
gE.append('rect').attr('x', sE.xs(-40)).attr('y', sE.ysRho(ndLevel)).attr('width', sE.xs(0) - sE.xs(-40))
  .attr('height', Y.rhoBot - sE.ysRho(ndLevel)).attr('fill', 'url(#hBlue)');
seg(gE, sE.xs(-40), sE.ysRho(ndLevel), sE.xs(0), sE.ysRho(ndLevel), '#3a7fd5', 1.5);
gE.append('path').attr('d', areaOf(sE, sE.ysE, Y.eBot)(eFieldX.map((x, i) => [x, eFieldE[i]])))
  .attr('fill', 'url(#hBlue)').attr('stroke', '#3a7fd5').attr('stroke-width', 1.2);
gE.append('path').attr('d', areaOf(sE, sE.ysV, Y.vBot).curve(d3.curveMonotoneX)(eVoltX.map((x, i) => [x, eVoltV[i]])))
  .attr('fill', 'url(#hBlue)').attr('stroke', '#3a7fd5').attr('stroke-width', 1.2);
profileAxes(gE, sE, 652, 815, 860, [0, 3e-4, 6e-4], [1.5e-4, 4.5e-4, 7.5e-4], eParts4, 16, {rho: 578, e: 572});
// W_D arrow and labels
const wdY = sE.ysRho(4.5e16);
gE.append('line').attr('x1', sE.xs(-40) + 2).attr('x2', sE.xs(0)).attr('y1', wdY).attr('y2', wdY)
  .attr('stroke', '#1f3fe0').attr('stroke-width', 2).attr('marker-start', 'url(#arrBlue)').attr('marker-end', 'url(#arrBlue)');
gE.append('rect').attr('x', 713).attr('y', wdY - 10).attr('width', 36).attr('height', 22).attr('fill', '#fff');
label(gE, 731, wdY + 7, [{t: 'W', i: true}, {t: 'D', sub: true}], {fs: 20, anchor: 'middle', fill: '#1f3fe0'});
label(gE, 727, 712, [{t: 'N', i: true}, {t: 'D', sub: true}], {fs: 22, anchor: 'middle'});
gE.append('rect').attr('x', 662).attr('y', sE.ysVhi(vbiMv) - 3).attr('width', 43).attr('height', 6).attr('fill', '#fff');
label(gE, 677, 922, [{t: 'V', i: true}, {t: 'bi', sub: true}], {fs: 24, fill: '#7b35a8'});

// ---- f
const gF = svg.append('g');
const sF = profile(gF, 987, 1150, [942, 1195], [0, 4.95], 1078);
gF.append('rect').attr('x', sF.xs(fNdStart)).attr('y', sF.ysRho(ndLevel)).attr('width', sF.xs(0) - sF.xs(fNdStart))
  .attr('height', Y.rhoBot - sF.ysRho(ndLevel)).attr('fill', 'url(#hBlue)');
seg(gF, sF.xs(fNdStart), sF.ysRho(ndLevel), sF.xs(0), sF.ysRho(ndLevel), '#3a7fd5', 1.5);
gF.append('rect').attr('x', sF.xs(-40)).attr('y', sF.ysRho(rhoInt)).attr('width', sF.xs(-40 + wInt) - sF.xs(-40))
  .attr('height', Y.rhoBot - sF.ysRho(rhoInt)).attr('fill', 'url(#hRed)').attr('stroke', '#e03030').attr('stroke-width', 1);
gF.append('path').attr('d', areaOf(sF, sF.ysE, Y.eBot)(fFieldIntX.map((x, i) => [x, fFieldIntE[i]])))
  .attr('fill', 'url(#hRed)').attr('stroke', '#e8141c').attr('stroke-width', 1.2);
const fClipLow = gF.append('g').attr('clip-path', clipRect(987, Y.brk, 1150, Y.vBot));
fClipLow.append('path').attr('d', areaOf(sF, sF.ysV, Y.vBot)(fVoltIntX.map((x, i) => [x, fVoltIntV[i]])))
  .attr('fill', 'url(#hRed)').attr('stroke', '#e8141c').attr('stroke-width', 1.2);
const fClipHi = gF.append('g').attr('clip-path', clipRect(987, Y.eBot, 1150, Y.brk));
fClipHi.append('path').attr('d', areaOf(sF, sF.ysVhi, Y.brk)(fVoltIntHiX.map((x, i) => [x, fVoltIntHiV[i]])))
  .attr('fill', '#e8141c');
gF.append('path').attr('d', areaOf(sF, sF.ysV, Y.vBot).curve(d3.curveMonotoneX)(fVoltX.map((x, i) => [x, fVoltV[i]])))
  .attr('fill', 'url(#hBlue)').attr('stroke', '#3a7fd5').attr('stroke-width', 1.2);
profileAxes(gF, sF, 987, 1150, 1197, [0, 1, 2, 3, 4], [0.5, 1.5, 2.5, 3.5, 4.5], d => [String(d)], 19, {rho: 929, e: 921});
label(gF, 1083, 922, [{t: 'V', i: true}, {t: 'bi', sub: true}], {fs: 24, fill: '#7b35a8'});
// inset: W_D vs W_int
gF.append('rect').attr('x', 1052).attr('y', 530).attr('width', 138).attr('height', 153).attr('fill', '#fff');
const inX = d3.scaleLinear().domain([2.1, 2.45]).range([1092, 1173]);
const inY = d3.scaleLinear().domain([9.3, 41.6]).range([628, 554]);
ticks(gF, 'bottom', inX, 628, [2.1, 2.2, 2.3, 2.4], {len: 3, fmt: d => d.toFixed(1), fs: 11, pad: 4, color: '#777', sw: 1});
ticks(gF, 'left', inY, 1092, [10, 20, 30, 40], {len: 3, fmt: d => String(d), fs: 12, pad: 4, color: '#777', sw: 1});
frame(gF, 1092, 554, 1173, 628, 1, '#999');
gF.append('path').attr('d', d3.line().x(d => inX(d[0])).y(d => inY(d[1]))(insetWint.map((w, i) => [w, insetWd[i]])))
  .attr('fill', 'none').attr('stroke', '#e8141c').attr('stroke-width', 4);
gF.append('line').attr('x1', inX(insetWint[3])).attr('x2', inX(insetWint[3])).attr('y1', inY(40)).attr('y2', 554)
  .attr('stroke', '#e8141c').attr('stroke-width', 4);
label(gF, 1066, 592, [{t: 'W', i: true}, {t: 'D', sub: true}, ' (nm)'], {fs: 15, rot: -90, anchor: 'middle'});
label(gF, 1133, 675, [{t: 'W', i: true}, {t: 'int', sub: true}, ' (nm)'], {fs: 16, anchor: 'middle'});
// W_int arrow and interface label
gF.append('line').attr('x1', sF.xs(-40) - 1).attr('x2', sF.xs(-40 + wInt) + 6).attr('y1', 551).attr('y2', 551)
  .attr('stroke', '#e8141c').attr('stroke-width', 1.8).attr('marker-start', 'url(#arrRedS)').attr('marker-end', 'url(#arrRedS)');
label(gF, 998, 532, [{t: 'W', i: true}, {t: 'int', sub: true}], {fs: 18, fill: '#e8141c'});
label(gF, 1004, 656, 'Interface', {fs: 15.5, i: true, fill: '#e8141c'});
label(gF, 1005, 674, 'states', {fs: 15.5, i: true, fill: '#e8141c'});
gF.append('line').attr('x1', 1017).attr('y1', 646).attr('x2', 998).attr('y2', 622)
  .attr('stroke', '#e8141c').attr('stroke-width', 2).attr('marker-end', 'url(#arrRed)');
// inset: E field zoom
const inEX = d3.scaleLinear().domain([-40, 0]).range([1062, 1145]);
const inEY = d3.scaleLinear().domain([0, 8.2e-4]).range([859.5, 743]);
gF.append('path').attr('d', d3.area().x(d => inEX(d[0])).y0(859.5).y1(d => inEY(d[1]))(fInsetFieldX.map((x, i) => [x, fInsetFieldE[i]])))
  .attr('fill', 'url(#hBlue)').attr('stroke', '#3a7fd5').attr('stroke-width', 1);
seg(gF, 1062, 743, 1062, 859.5, '#a0403a', 1.5);
seg(gF, 1145, 738, 1145, 859.5, '#888', 1.5);
seg(gF, 1062, 859.5, 1145, 859.5, '#000', 1.2);
ticks(gF, 'left', inEY, 1062, [0, 3e-4, 6e-4], {len: 4, parts: eParts4, fs: 14, pad: 7, color: '#a0403a'});
ticks(gF, 'bottom', inEX, 859.5, [-40, -20, 0], {len: 4, fmt: d => String(d), fs: 14, pad: 4});
ticks(gF, 'bottom', inEX, 859.5, linTicks(-40, 0, 2, 20), {len: 2});
</script>
</body>
</html>
